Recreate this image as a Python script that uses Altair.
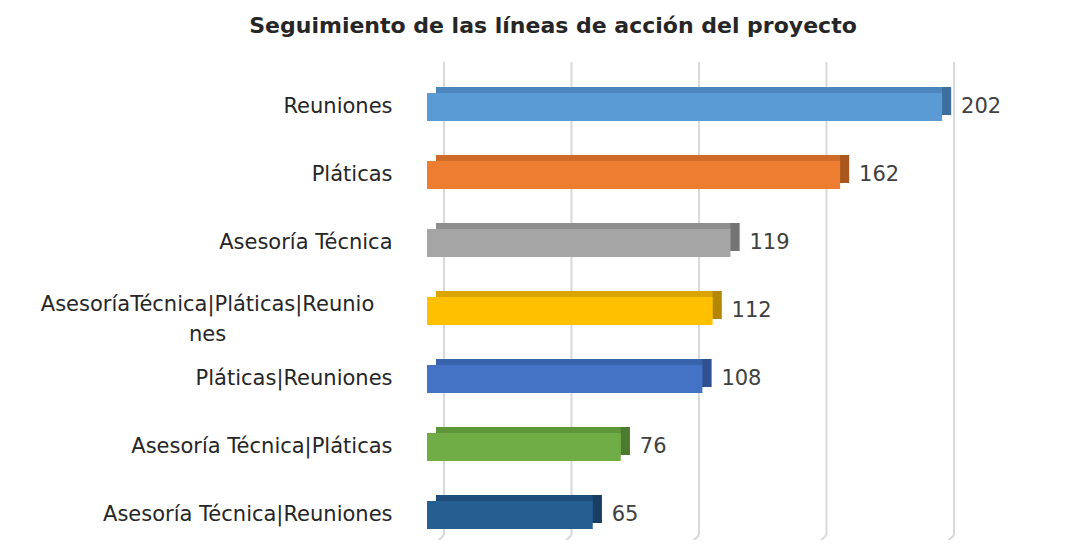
import altair as alt
import pandas as pd

categories = ["Reuniones", "Pláticas", "Asesoría Técnica",
              "AsesoríaTécnica|Pláticas|Reuniones", "Pláticas|Reuniones",
              "Asesoría Técnica|Pláticas", "Asesoría Técnica|Reuniones"]
values = [202, 162, 119, 112, 108, 76, 65]
front_colors = ["#5B9BD5", "#ED7D31", "#A5A5A5", "#FFC000", "#4472C4", "#70AD47", "#255E91"]
top_colors = ["#4C86BD", "#CF6B29", "#8E8E8E", "#DBA500", "#3A63AD", "#5E9539", "#1E4F7C"]
side_colors = ["#3D6E9E", "#A9571F", "#747474", "#B38700", "#2F5190", "#4C7A2E", "#183F63"]
grid_values = [0, 50, 100, 150, 200]

df = pd.DataFrame({"cat": categories, "value": values,
                   "front": front_colors, "top": top_colors, "side": side_colors})
gdf = pd.DataFrame({"g": grid_values})

MULTI = "AsesoríaTécnica|Pláticas|Reuniones"
FONT = "DejaVu Sans"
TXT = "#262626"
TEST = f"datum.value == '{MULTI}'"

xscale = alt.Scale(domain=[0, 240], nice=False)
y = alt.Y("cat:N", sort=categories,
          scale=alt.Scale(paddingInner=0.588, paddingOuter=0.294, align=0.875),
          axis=alt.Axis(title=None, domain=False, ticks=False, grid=False,
                        labelFont=FONT, labelFontSize=21, labelColor=TXT,
                        labelLimit=600, labelLineHeight=30,
                        labelPadding={"condition": {"test": TEST, "value": 220}, "value": 35},
                        labelAlign={"condition": {"test": TEST, "value": "center"}, "value": "right"},
                        labelOffset={"condition": {"test": TEST, "value": -6}, "value": 0},
                        labelExpr=f"{TEST} ? ['AsesoríaTécnica|Pláticas|Reunio', 'nes'] : datum.label"))

grid = alt.Chart(gdf).mark_rule(color="#D9D9D9", strokeWidth=2, xOffset=17).encode(
    x=alt.X("g:Q", scale=xscale, axis=None),
    y=alt.value(4), y2=alt.value(477))

floor = alt.Chart(gdf).mark_rule(color="#D9D9D9", strokeWidth=2, xOffset=17, x2Offset=11).encode(
    x=alt.X("g:Q", scale=xscale, axis=None), x2="g:Q",
    y=alt.value(477), y2=alt.value(483))

top = alt.Chart(df).mark_bar(xOffset=9, x2Offset=9, yOffset=-6).encode(
    x=alt.X("value:Q", scale=xscale, axis=None), y=y,
    color=alt.Color("top:N", scale=None))

side = alt.Chart(df).mark_bar(xOffset=0, x2Offset=9, yOffset=-6).encode(
    x=alt.X("value:Q", scale=xscale, axis=None), x2="value:Q", y=y,
    color=alt.Color("side:N", scale=None))

front = alt.Chart(df).mark_bar().encode(
    x=alt.X("value:Q", scale=xscale, axis=None), y=y,
    color=alt.Color("front:N", scale=None))

labels = alt.Chart(df).mark_text(align="left", baseline="middle", dx=19,
                                 font=FONT, fontSize=21, color="#404040").encode(
    x=alt.X("value:Q", scale=xscale, axis=None), y=y, text="value:Q")

chart = alt.layer(grid, floor, top, side, front, labels).properties(
    width=612, height=476,
    view=alt.ViewBackground(stroke="transparent", strokeWidth=0),
    padding={"left": 419, "top": 50, "right": 26, "bottom": 6},
    autosize=alt.AutoSizeParams(type="none"),
    title=alt.Title("Seguimiento de las líneas de acción del proyecto",
                    font=FONT, fontSize=22, fontWeight="bold", color=TXT,
                    anchor="middle", frame="group", dx=-180, offset=20),
).configure_view(stroke="transparent", strokeWidth=0).configure(background="white")

chart.save("out.html", embed_options={"renderer": "svg", "actions": False})
